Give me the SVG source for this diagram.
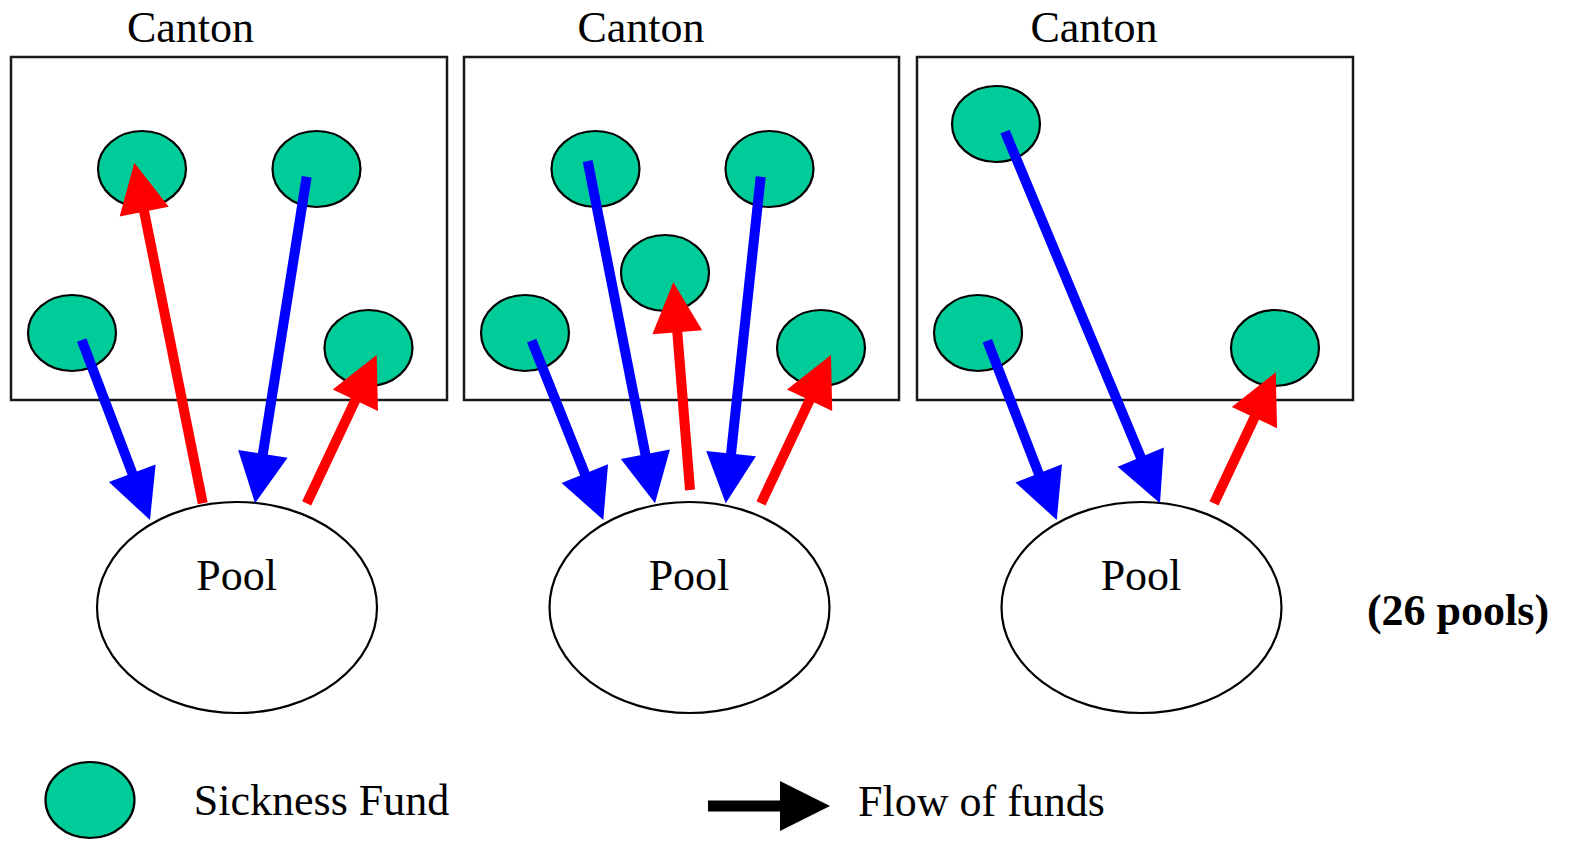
<svg xmlns="http://www.w3.org/2000/svg" width="1571" height="841" viewBox="0 0 1571 841">
<style>
.box{fill:#fff;stroke:#1a1a1a;stroke-width:2.5}
.fund{fill:#00CC99;stroke:#000;stroke-width:2.2}
.pool{fill:#fff;stroke:#000;stroke-width:2.2}
.lbl{font-family:"Liberation Serif","Times New Roman",serif;font-size:44px;fill:#000;text-anchor:middle}
.bold{font-weight:bold}
.blue{stroke:#0000FF;stroke-width:10;fill:none;marker-end:url(#hb)}
.red{stroke:#FF0000;stroke-width:10;fill:none;marker-end:url(#hr)}
.blk{stroke:#000;stroke-width:11;fill:none;marker-end:url(#hk)}
</style>
<defs>
<marker id="hb" markerUnits="userSpaceOnUse" viewBox="0 -25 50 50" markerWidth="50" markerHeight="50" refX="10" refY="0" orient="auto" overflow="visible"><path d="M0,-25 L50,0 L0,25 z" fill="#0000FF"/></marker>
<marker id="hr" markerUnits="userSpaceOnUse" viewBox="0 -25 50 50" markerWidth="50" markerHeight="50" refX="10" refY="0" orient="auto" overflow="visible"><path d="M0,-25 L50,0 L0,25 z" fill="#FF0000"/></marker>
<marker id="hk" markerUnits="userSpaceOnUse" viewBox="0 -25 50 50" markerWidth="50" markerHeight="50" refX="10" refY="0" orient="auto" overflow="visible"><path d="M0,-25 L50,0 L0,25 z" fill="#000"/></marker>
</defs>
<rect width="1571" height="841" fill="#fff"/>

<g id="canton1">
<rect class="box" x="11" y="57" width="436" height="343"/>
<text class="lbl" x="190.5" y="41.5">Canton</text>
</g>
<g id="canton2">
<rect class="box" x="464" y="57" width="435" height="343"/>
<text class="lbl" x="641" y="41.5">Canton</text>
</g>
<g id="canton3">
<rect class="box" x="917" y="57" width="436" height="343"/>
<text class="lbl" x="1094" y="41.5">Canton</text>
</g>

<g id="fund1a"><ellipse class="fund" cx="142" cy="169" rx="44" ry="38"/></g>
<g id="fund1b"><ellipse class="fund" cx="316.5" cy="169" rx="44" ry="38"/></g>
<g id="fund1c"><ellipse class="fund" cx="72" cy="333" rx="44" ry="38"/></g>
<g id="fund1d"><ellipse class="fund" cx="368.5" cy="348" rx="44" ry="38"/></g>

<g id="fund2a"><ellipse class="fund" cx="595.5" cy="169" rx="44" ry="38"/></g>
<g id="fund2b"><ellipse class="fund" cx="769.5" cy="169" rx="44" ry="38"/></g>
<g id="fund2c"><ellipse class="fund" cx="665" cy="273" rx="44" ry="38"/></g>
<g id="fund2d"><ellipse class="fund" cx="525" cy="333" rx="44" ry="38"/></g>
<g id="fund2e"><ellipse class="fund" cx="821" cy="348" rx="44" ry="38"/></g>

<g id="fund3a"><ellipse class="fund" cx="996" cy="124" rx="44" ry="38"/></g>
<g id="fund3b"><ellipse class="fund" cx="978" cy="333" rx="44" ry="38"/></g>
<g id="fund3c"><ellipse class="fund" cx="1275" cy="348" rx="44" ry="38"/></g>

<g id="pool1">
<ellipse class="pool" cx="237" cy="607.5" rx="140" ry="105.5"/>
<text class="lbl" x="236.7" y="590">Pool</text>
</g>
<g id="pool2">
<ellipse class="pool" cx="689.5" cy="607.5" rx="140" ry="105.5"/>
<text class="lbl" x="689" y="590">Pool</text>
</g>
<g id="pool3">
<ellipse class="pool" cx="1141.5" cy="607.5" rx="140" ry="105.5"/>
<text class="lbl" x="1141" y="590">Pool</text>
</g>

<g id="count">
<text class="lbl bold" x="1458" y="625">(26 pools)</text>
</g>

<g id="legend-fund">
<ellipse class="fund" cx="90" cy="800" rx="44.5" ry="38"/>
<text class="lbl" x="321.5" y="815">Sickness Fund</text>
</g>
<g id="legend-flow">
<line class="blk" x1="708" y1="806" x2="790" y2="806"/>
<text class="lbl" x="981.5" y="816">Flow of funds</text>
</g>

<g id="connectors">
<line class="blue" x1="81.7" y1="340" x2="135.8" y2="482.6"/>
<line class="red" x1="202.7" y1="503.3" x2="142.2" y2="201.9"/>
<line class="blue" x1="306.7" y1="176.7" x2="261.3" y2="463.8"/>
<line class="red" x1="306.7" y1="503.3" x2="359.6" y2="391.2"/>

<line class="blue" x1="531.7" y1="340.7" x2="588.5" y2="482.9"/>
<line class="blue" x1="587.7" y1="161" x2="647.3" y2="464.1"/>
<line class="red" x1="690" y1="490" x2="676.5" y2="322.2"/>
<line class="blue" x1="760.7" y1="176.7" x2="730" y2="463.5"/>
<line class="red" x1="761" y1="503.3" x2="813.9" y2="391.2"/>

<line class="blue" x1="1005" y1="131.7" x2="1144.6" y2="466.4"/>
<line class="blue" x1="987.3" y1="340.7" x2="1042.3" y2="482.7"/>
<line class="red" x1="1214" y1="503.3" x2="1258.7" y2="408.5"/>
</g>
</svg>
